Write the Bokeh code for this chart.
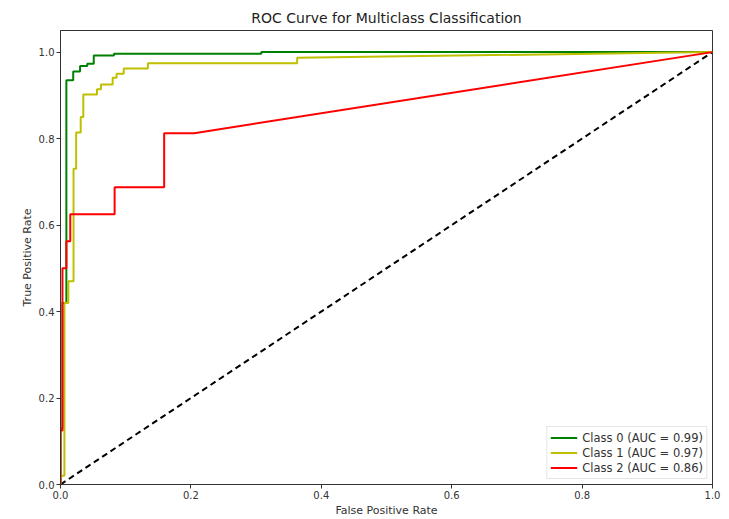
from bokeh.plotting import figure
from bokeh.models import Range1d, FixedTicker, PrintfTickFormatter, Legend, LegendItem
from bokeh.embed import file_html
from bokeh.resources import INLINE

# ROC points per class (false positive rate, true positive rate)
fpr_class0 = [0.0, 0.0, 0.003, 0.003, 0.009, 0.009, 0.0195, 0.0195, 0.030, 0.030, 0.041, 0.041,
              0.051, 0.051, 0.082, 0.082, 0.308, 0.308, 1.0]
tpr_class0 = [0.0, 0.13, 0.13, 0.42, 0.42, 0.935, 0.935, 0.955, 0.955, 0.968, 0.968, 0.973,
              0.973, 0.992, 0.992, 0.996, 0.996, 1.0, 1.0]

fpr_class1 = [0.0, 0.0, 0.006, 0.006, 0.012, 0.012, 0.020, 0.020, 0.024, 0.024, 0.031, 0.031,
              0.035, 0.035, 0.056, 0.056, 0.062, 0.062, 0.080, 0.080, 0.086, 0.086, 0.097, 0.097,
              0.134, 0.134, 0.363, 0.363, 1.0]
tpr_class1 = [0.0, 0.02, 0.02, 0.42, 0.42, 0.47, 0.47, 0.73, 0.73, 0.814, 0.814, 0.85,
              0.85, 0.902, 0.902, 0.914, 0.914, 0.925, 0.925, 0.941, 0.941, 0.95, 0.95, 0.962,
              0.962, 0.974, 0.974, 0.987, 1.0]

fpr_class2 = [0.0, 0.0, 0.003, 0.003, 0.009, 0.009, 0.015, 0.015, 0.083, 0.083, 0.159, 0.159,
              0.205, 1.0]
tpr_class2 = [0.0, 0.125, 0.125, 0.5, 0.5, 0.5625, 0.5625, 0.625, 0.625, 0.6875, 0.6875, 0.8125,
              0.8125, 1.0]

class_names = ["Class 0", "Class 1", "Class 2"]
auc_values = [0.99, 0.97, 0.86]
line_colors = ["#008000", "#bfbf00", "#ff0000"]
tick_values = [0.0, 0.2, 0.4, 0.6, 0.8, 1.0]

FONT = "DejaVu Sans"

p = figure(width=729, height=519, output_backend="svg", toolbar_location=None,
           x_range=Range1d(0, 1.0), y_range=Range1d(0, 1.05),
           min_border_left=60, min_border_right=17, min_border_top=30, min_border_bottom=29,
           title="ROC Curve for Multiclass Classification")

p.background_fill_color = "white"
p.border_fill_color = "white"
p.outline_line_color = "#333333"
p.outline_line_width = 1
p.xgrid.visible = False
p.ygrid.visible = False

p.title.text_font = FONT
p.title.text_font_size = "14px"
p.title.text_font_style = "normal"
p.title.text_color = "#222222"
p.title.align = "center"
p.title.offset = 0

for ax in (p.xaxis[0], p.yaxis[0]):
    ax.ticker = FixedTicker(ticks=tick_values)
    ax.formatter = PrintfTickFormatter(format="%.1f")
    ax.major_label_text_font = FONT
    ax.major_label_text_font_size = "10px"
    ax.major_label_text_color = "#333333"
    ax.axis_label_text_font = FONT
    ax.axis_label_text_font_size = "11px"
    ax.axis_label_text_font_style = "normal"
    ax.axis_label_text_color = "#333333"
    ax.axis_line_color = "#333333"
    ax.major_tick_line_color = "#333333"
    ax.major_tick_out = 4
    ax.major_tick_in = 0
    ax.minor_tick_line_color = None
    ax.major_label_standoff = 2
    ax.axis_label_standoff = 2

p.xaxis.axis_label = "False Positive Rate"
p.yaxis.axis_label = "True Positive Rate"

# chance diagonal
p.line([0, 1], [0, 1], line_color="black", line_width=2, line_dash="6 4")

series = [(fpr_class0, tpr_class0), (fpr_class1, tpr_class1), (fpr_class2, tpr_class2)]
items = []
for (fx, ty), name, auc, col in zip(series, class_names, auc_values, line_colors):
    r = p.line(fx, ty, line_color=col, line_width=2)
    items.append(LegendItem(label=f"{name} (AUC = {auc:.2f})", renderers=[r]))

legend = Legend(items=items, location="bottom_right")
legend.label_text_font = FONT
legend.label_text_font_size = "11.5px"
legend.label_text_color = "#333333"
legend.glyph_width = 27
legend.glyph_height = 15
legend.label_height = 15
legend.spacing = 0
legend.padding = 3
legend.margin = 5
legend.border_line_color = "#cccccc"
legend.border_line_width = 1
legend.background_fill_alpha = 0.9
p.add_layout(legend)

open("out.html", "w").write(file_html(p, INLINE))
